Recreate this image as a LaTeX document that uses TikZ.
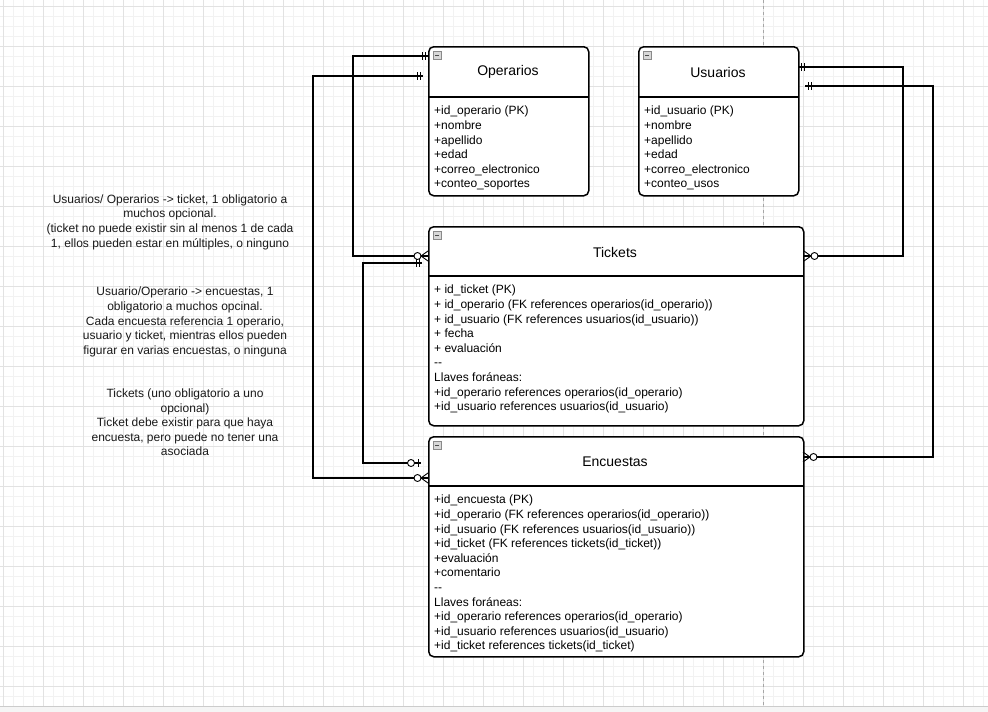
\documentclass[tikz,border=0pt]{standalone}
\usepackage{fontspec}
\setmainfont{Liberation Sans}
\definecolor{gridminor}{HTML}{F2F2F2}
\definecolor{gridmajor}{HTML}{E2E2E2}
\definecolor{iconfill}{HTML}{D8D8D8}
\definecolor{iconline}{HTML}{8A8A8A}
\begin{document}
\begin{tikzpicture}[x=1pt,y=-1pt,
  erbox/.style={draw=black,line width=1.5pt,rounded corners=5pt,fill=white},
  divider/.style={draw=black,line width=1.5pt},
  title/.style={font=\fontsize{14}{16}\selectfont,inner sep=0pt},
  attrs/.style={font=\fontsize{12}{14.6}\selectfont,align=left,inner sep=0pt,anchor=north west},
  note/.style={font=\fontsize{12}{14.6}\selectfont,align=center,inner sep=0pt,text=black!90},
  erline/.style={draw=black,line width=1.1pt},
  ermk/.style={draw=black,line width=0.9pt},
  erone/.pic={\draw[ermk] (-3,-4)--(-3,4) (-6,-4)--(-6,4);},
  erzmany/.pic={\draw[ermk] (-7,0)--(0,-5) (-7,0)--(0,5) (-7,0)--(0,0);
                \draw[ermk,fill=white] (-10.5,0) circle (3.5);},
  erzone/.pic={\draw[ermk] (-3,-4)--(-3,4);
               \draw[ermk,fill=white] (-10,0) circle (3.5);},
  icon/.pic={\draw[draw=iconline,fill=iconfill,line width=0.5pt] (0,0) rectangle (8,8);
             \draw[draw=black!70,line width=0.8pt] (2,4)--(6,4);}
]
\useasboundingbox (0,0) rectangle (988,712);
\fill[white] (0,0) rectangle (988,712);
% grid
\foreach \i in {0,...,98} {\draw[gridminor,line width=0.5pt] (3+10*\i,0)--(3+10*\i,706);}
\foreach \i in {0,...,70} {\draw[gridminor,line width=0.5pt] (0,6+10*\i)--(988,6+10*\i);}
\foreach \i in {0,...,24} {\draw[gridmajor,line width=0.8pt] (3+40*\i,0)--(3+40*\i,706);}
\foreach \i in {0,...,17} {\draw[gridmajor,line width=0.8pt] (0,6+40*\i)--(988,6+40*\i);}
\draw[black!35,dashed,line width=0.6pt] (763,0)--(763,706);
\fill[black!4] (0,706) rectangle (988,712);
\draw[black!20,line width=0.6pt] (0,706)--(988,706);

% connector end points
\coordinate (c1a) at (428,56);  \coordinate (c1b) at (428,256);
\coordinate (c2a) at (423,76);  \coordinate (c2b) at (428,478);
\coordinate (c3a) at (422,263); \coordinate (c3b) at (421,463);
\coordinate (c4a) at (798,67);  \coordinate (c4b) at (804,256);
\coordinate (c5a) at (805,86);  \coordinate (c5b) at (803,457);

% connectors
\draw[erline] (c1a) -- (353,56) -- (353,256) -- (c1b);
\draw[erline] (c2a) -- (313,76) -- (313,478) -- (c2b);
\draw[erline] (c3a) -- (363,263) -- (363,463) -- (c3b);
\draw[erline] (c4a) -- (903,67) -- (903,256) -- (c4b);
\draw[erline] (c5a) -- (933,86) -- (933,457) -- (c5b);

% boxes
\node[erbox,minimum width=160pt,minimum height=149pt,anchor=north west] (op) at (428,46) {};
\node[erbox,minimum width=160pt,minimum height=149pt,anchor=north west] (us) at (638,46) {};
\node[erbox,minimum width=375pt,minimum height=199pt,anchor=north west] (tk) at (428,226) {};
\node[erbox,minimum width=375pt,minimum height=220pt,anchor=north west] (en) at (428,436) {};
\draw[divider] (428,97)--(588,97);
\draw[divider] (638,97)--(798,97);
\draw[divider] (428,276)--(803,276);
\draw[divider] (428,486)--(803,486);
\pic at (433,51) {icon};
\pic at (643,51) {icon};
\pic at (433,231) {icon};
\pic at (433,441) {icon};

% ER marks
\pic at (c1a) {erone};
\pic at (c1b) {erzmany};
\pic at (c2a) {erone};
\pic at (c2b) {erzmany};
\pic at (c3a) {erone};
\pic at (c3b) {erzone};
\pic[xscale=-1] at (c4a) {erone};
\pic[xscale=-1] at (c4b) {erzmany};
\pic[xscale=-1] at (c5a) {erone};
\pic[xscale=-1] at (c5b) {erzmany};

% titles
\node[title] (opt) at (508,72) {Operarios};
\node[title] (ust) at (718,72) {Usuarios};
\node[title] (tkt) at (615,252) {Tickets};
\node[title] (ent) at (615,462) {Encuestas};

% attributes
\node[attrs] (opa) at (434,106) {+id\_operario (PK)\\+nombre\\+apellido\\+edad\\+correo\_electronico\\+conteo\_soportes};
\node[attrs] (usa) at (644,106) {+id\_usuario (PK)\\+nombre\\+apellido\\+edad\\+correo\_electronico\\+conteo\_usos};
\node[attrs] (tka) at (434,285) {+ id\_ticket (PK)\\+ id\_operario (FK references operarios(id\_operario))\\+ id\_usuario (FK references usuarios(id\_usuario))\\+ fecha\\+ evaluación\\-{}-\\Llaves foráneas:\\+id\_operario references operarios(id\_operario)\\+id\_usuario references usuarios(id\_usuario)};
\node[attrs] (ena) at (434,495) {+id\_encuesta (PK)\\+id\_operario (FK references operarios(id\_operario))\\+id\_usuario (FK references usuarios(id\_usuario))\\+id\_ticket (FK references tickets(id\_ticket))\\+evaluación\\+comentario\\-{}-\\Llaves foráneas:\\+id\_operario references operarios(id\_operario)\\+id\_usuario references usuarios(id\_usuario)\\+id\_ticket references tickets(id\_ticket)};

% notes
\node[note] (n1) at (170,222) {Usuarios/ Operarios -> ticket, 1 obligatorio a\\muchos opcional.\\(ticket no puede existir sin al menos 1 de cada\\1, ellos pueden estar en múltiples, o ninguno};
\node[note] (n2) at (185,322) {Usuario/Operario -> encuestas, 1\\obligatorio a muchos opcinal.\\Cada encuesta referencia 1 operario,\\usuario y ticket, mientras ellos pueden\\figurar en varias encuestas, o ninguna};
\node[note] (n3) at (185,422.5) {Tickets (uno obligatorio a uno\\opcional)\\Ticket debe existir para que haya\\encuesta, pero puede no tener una\\asociada};
\end{tikzpicture}
\end{document}
